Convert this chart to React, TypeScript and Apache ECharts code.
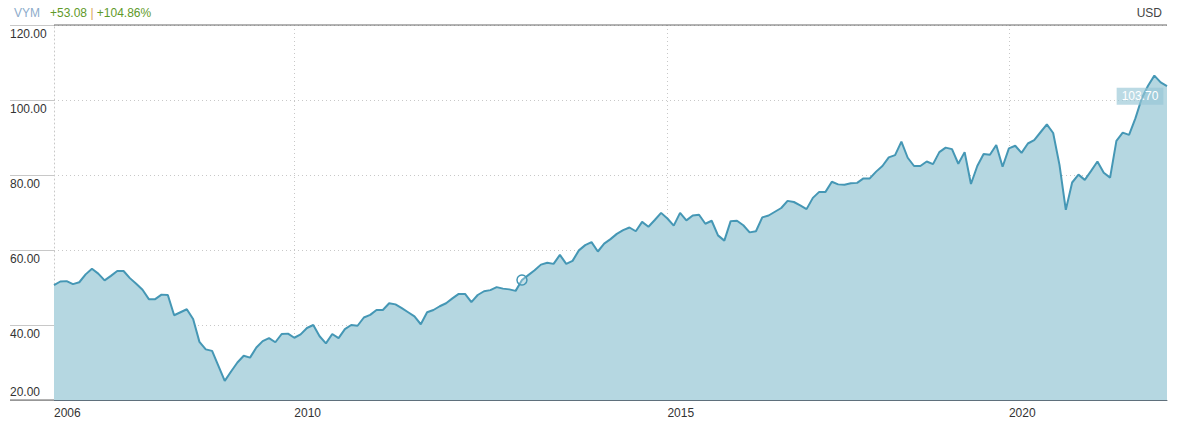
import React, { useEffect, useRef } from "react";
import * as echarts from "echarts";

const ticker = "VYM";
const currency = "USD";

// Monthly closes, Nov 2006 -> Jul 2021
const prices: number[] = [
  50.62, 51.6, 51.7, 50.9, 51.4, 53.5, 55.0, 53.7, 51.9, 53.1,
  54.4, 54.4, 52.5, 51.0, 49.4, 46.9, 46.9, 48.1, 48.0, 42.6,
  43.4, 44.2, 41.6, 35.5, 33.5, 33.1, 29.1, 25.1, 27.6, 30.0,
  31.8, 31.3, 34.0, 35.7, 36.5, 35.4, 37.6, 37.7, 36.6, 37.5,
  39.2, 40.0, 37.0, 35.1, 37.6, 36.5, 38.9, 40.0, 39.8, 42.0,
  42.7, 44.0, 44.0, 45.8, 45.5, 44.5, 43.4, 42.3, 40.2, 43.4,
  44.0, 45.0, 45.8, 47.1, 48.3, 48.3, 46.1, 48.0, 49.0, 49.3,
  50.1, 49.7, 49.5, 49.1, 52.0, 53.3, 54.6, 56.1, 56.6, 56.3,
  58.7, 56.3, 57.1, 59.9, 61.3, 62.1, 59.6, 61.7, 62.9, 64.3,
  65.3, 66.0, 65.0, 67.5, 66.2, 68.0, 69.9, 68.4, 66.5, 69.9,
  67.9, 69.2, 69.4, 67.0, 67.8, 63.9, 62.5, 67.7, 67.8, 66.6,
  64.7, 65.0, 68.7, 69.2, 70.2, 71.2, 73.1, 72.8, 71.9, 70.9,
  73.9, 75.5, 75.5, 78.2, 77.5, 77.4, 77.8, 77.9, 79.1, 79.1,
  80.9, 82.4, 84.7, 85.3, 88.9, 84.6, 82.4, 82.4, 83.6, 82.9,
  86.1, 87.3, 86.9, 83.0, 86.1, 77.6, 82.4, 85.6, 85.4, 88.0,
  82.2, 87.1, 87.8, 85.9, 88.4, 89.3, 91.4, 93.5, 91.2, 82.7,
  70.7, 78.0, 80.1, 78.7, 81.1, 83.6, 80.6, 79.3, 89.1, 91.3,
  90.7, 95.1, 100.4, 103.8, 106.5, 104.7, 103.7,
];

const categories: string[] = prices.map((_, i) => {
  const m = 10 + i; // Nov 2006 = month index 10 of 2006
  const y = 2006 + Math.floor(m / 12);
  const mm = (m % 12) + 1;
  return `${y}-${mm < 10 ? "0" + mm : mm}`;
});

const xTickIndex = [0, 38, 97, 151];
const xTickLabels = ["2006", "2010", "2015", "2020"];

const yMin = 20;
const yMax = 120;
const yStep = 20;

const markerIndex = 74;

const FONT = "'Liberation Sans', Arial, sans-serif";
const FS = 12;

export default function App() {
  const ref = useRef<HTMLDivElement>(null);

  useEffect(() => {
    if (!ref.current) return;
    const chart = echarts.init(ref.current, null, { renderer: "svg" });
    const first = prices[0];
    const last = prices[prices.length - 1];
    const chg = last - first;
    const pct = (chg / first) * 100;
    const sign = (v: number) => (v >= 0 ? "+" : "");

    chart.setOption({
      animation: false,
      backgroundColor: "#fff",
      textStyle: { fontFamily: FONT },
      grid: { left: 54, right: 10, top: 25, bottom: 25, containLabel: false },
      title: [
        {
          left: 9,
          top: 2,
          text: `{t|${ticker}}   {g|${sign(chg)}${chg.toFixed(2)}} {s||} {g|${sign(pct)}${pct.toFixed(2)}%}`,
          textStyle: {
            fontFamily: FONT,
            fontWeight: "normal",
            fontSize: FS,
            rich: {
              t: { color: "#8daccb", fontSize: FS, fontFamily: FONT, fontWeight: "normal" },
              g: { color: "#5f9a2a", fontSize: FS, fontFamily: FONT, fontWeight: "normal" },
              s: { color: "#d9a458", fontSize: FS, fontFamily: FONT, fontWeight: "normal" },
            },
          },
        },
        {
          right: 10,
          top: 2,
          text: currency,
          textStyle: { color: "#444", fontSize: FS, fontWeight: "normal", fontFamily: FONT },
        },
      ],
      xAxis: {
        type: "category",
        data: categories,
        boundaryGap: false,
        axisLine: { lineStyle: { color: "#5f707c", width: 1 } },
        axisTick: { show: false },
        axisLabel: {
          interval: (i: number) => xTickIndex.includes(i),
          formatter: (_v: string, i: number) => {
            const k = xTickIndex.indexOf(i);
            return k >= 0 ? xTickLabels[k] : "";
          },
          align: "left",
          margin: 7,
          color: "#333",
          fontSize: FS,
          fontFamily: FONT,
          showMinLabel: true,
        },
        splitLine: {
          show: true,
          interval: (i: number) => xTickIndex.includes(i) && i > 0,
          lineStyle: { color: "#c8c8c8", type: [1, 3], width: 1 },
        },
      },
      yAxis: {
        type: "value",
        min: yMin,
        max: yMax,
        interval: yStep,
        axisLine: { show: true, lineStyle: { color: "#c8c8c8", type: [1, 3] } },
        axisTick: { show: true, length: 44, lineStyle: { color: "#c8c8c8", type: "solid" } },
        axisLabel: {
          align: "left",
          margin: 44,
          color: "#333",
          fontSize: FS,
          fontFamily: FONT,
          formatter: (v: number) => (v === yMin ? `{up|${v.toFixed(2)}}` : `{dn|${v.toFixed(2)}}`),
          rich: {
            up: { padding: [0, 0, 16, 0], fontSize: FS, fontFamily: FONT, color: "#333" },
            dn: { padding: [18, 0, 0, 0], fontSize: FS, fontFamily: FONT, color: "#333" },
          },
        },
        splitLine: { show: true, lineStyle: { color: "#c8c8c8", type: [1, 3] } },
      },
      graphic: [
        { type: "line", shape: { x1: 54, y1: 25, x2: 1167, y2: 25 }, style: { stroke: "#666", lineWidth: 1 }, z: 10 },
        { type: "line", shape: { x1: 10, y1: 400, x2: 54, y2: 400 }, style: { stroke: "#666", lineWidth: 1 }, z: 10 },
      ],
      series: [
        {
          type: "line",
          data: prices,
          showSymbol: false,
          symbol: "none",
          lineStyle: { color: "#4597b5", width: 2 },
          areaStyle: { color: "#b5d7e1", opacity: 1 },
          markPoint: {
            silent: true,
            data: [
              {
                coord: [markerIndex, prices[markerIndex]],
                symbol: "circle",
                symbolSize: 10,
                itemStyle: { color: "rgba(255,255,255,0.25)", borderColor: "#4597b5", borderWidth: 1.5 },
                label: { show: false },
              },
              {
                coord: [prices.length - 1, last],
                symbol: "circle",
                symbolSize: 1,
                itemStyle: { color: "rgba(0,0,0,0)" },
                label: {
                  show: true,
                  position: "inside",
                  formatter: last.toFixed(2),
                  offset: [-27, 10],
                  backgroundColor: "rgba(150,198,214,0.65)",
                  color: "#fff",
                  fontSize: FS,
                  fontFamily: FONT,
                  padding: [3, 5, 2, 5],
                },
              },
            ],
          },
        },
      ],
    });
    return () => chart.dispose();
  }, []);

  return (
    <div
      ref={ref}
      style={{ position: "fixed", left: 0, top: 0, width: 1177, height: 425, background: "#fff" }}
    />
  );
}
